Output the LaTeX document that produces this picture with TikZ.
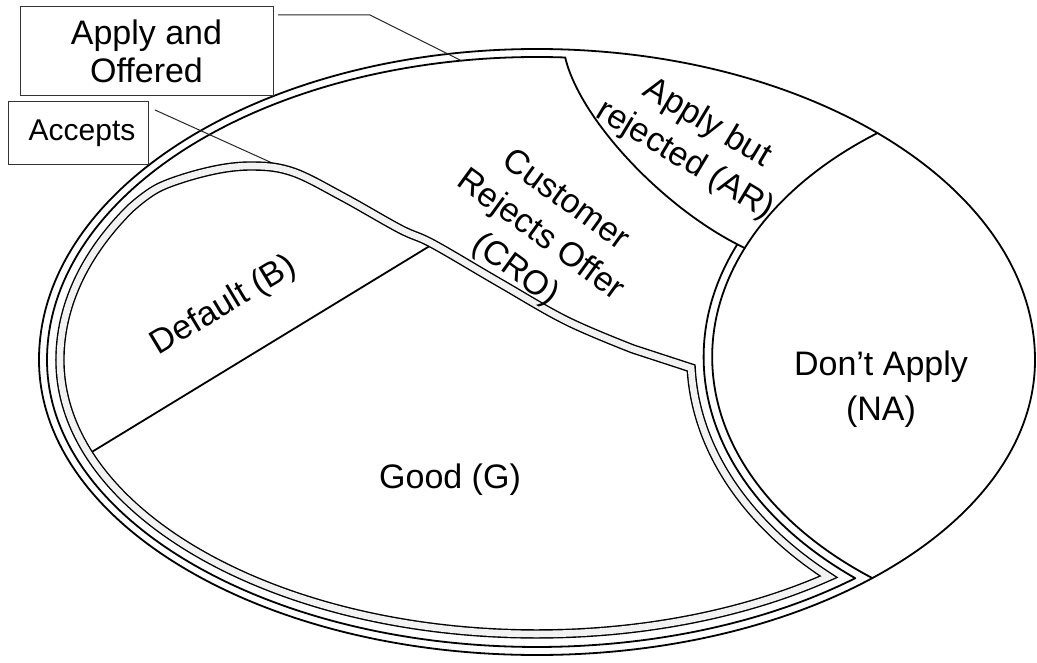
\documentclass[tikz,border=0pt]{standalone}
\usepackage{fontspec}
\setmainfont{Liberation Sans}
\begin{document}
\begin{tikzpicture}[x=1pt,y=1pt,
  outline/.style={line width=1.8pt, line cap=round, line join=round},
  bandline/.style={line width=1.4pt, double=black!5, double distance=6.6pt},
  boxnode/.style={draw=black!80, fill=white, line width=1pt, inner sep=0pt, align=center},
  leader/.style={line width=1pt, draw=black!85},
  lbl/.style={align=center, inner sep=0pt},
  bigtext/.style={font=\fontsize{34}{43}\selectfont}]
\useasboundingbox (0,0) rectangle (1037,662);

% named points
\coordinate (eRight) at (1035,302);
\coordinate (arTop) at (565.2,604.5);
\coordinate (naTop) at (877.6,529);
\coordinate (naMid) at (744.7,414);
\coordinate (defA) at (433,418);
\coordinate (defB) at (89,208.3);
\coordinate (bandStart) at (130,453.3);
\coordinate (accFrom) at (155,552);
\coordinate (accTo) at (312,481);
\coordinate (aoFrom) at (278,647);
\coordinate (aoBend) at (370,647);
\coordinate (aoTo) at (462,601);

% whole population (outer boundary)
\draw[outline] (eRight)
  arc[start angle=0,end angle=180,x radius=498pt,y radius=311pt]
  arc[start angle=180,end angle=360,x radius=498pt,y radius=295pt] -- cycle;

% Don't apply boundary
\draw[outline] (naTop) arc[start angle=126.9,end angle=232.2,x radius=414pt,y radius=280pt];

% Apply but rejected boundary
\draw[outline] (arTop) .. controls (580,542) and (665,452) .. (naMid);

% Apply and offered boundary
\draw[outline] (arTop)
  arc[start angle=86.7,end angle=180,x radius=490pt,y radius=303pt]
  arc[start angle=180,end angle=310.5,x radius=490pt,y radius=287pt]
  arc[start angle=230.15,end angle=157.0,x radius=422pt,y radius=288pt];

% Default / Good divider
\draw[outline] (defA) -- (defB);

% leaders
\draw[leader] (accFrom) -- (accTo);
\draw[leader] (aoFrom) -- (aoBend) -- (aoTo);

% Accepts boundary (double line)
\draw[bandline] (bandStart)
  arc[start angle=148.56,end angle=180,x radius=477pt,y radius=290pt]
  arc[start angle=180,end angle=307.7,x radius=477pt,y radius=274pt]
  arc[start angle=226.9,end angle=182.1,x radius=435pt,y radius=301pt]
  -- plot[smooth, tension=0.6] coordinates {(633,313) (567,341) (500,379) (433,418) (400,433) (343,465) (293,490) (253,496) (210,491) (160,475) (130,453.3)}
  -- cycle;

% boxes
\node[boxnode, minimum width=253pt, minimum height=89pt, font=\fontsize{34}{38}\selectfont] (applybox) at (146.5,610.5) {Apply and\\Offered};
\node[boxnode, minimum width=140pt, minimum height=63pt, font=\fontsize{30}{36}\selectfont] (acceptbox) at (78,528.5) {\hspace*{8pt}Accepts};

% region labels
\node[lbl, bigtext, rotate=31] (dflt) at (224,356) {Default (B)};
\node[lbl, bigtext, rotate=-36] (cro) at (540,426) {Customer\\Rejects Offer\\(CRO)};
\node[lbl, bigtext, rotate=-31] (arlbl) at (696,520) {Apply but\\rejected (AR)};
\node[lbl, font=\fontsize{34}{45}\selectfont] (nalbl) at (881,273) {Don’t Apply\\(NA)};
\node[lbl, bigtext] (good) at (450,182) {Good (G)};
\end{tikzpicture}
\end{document}
